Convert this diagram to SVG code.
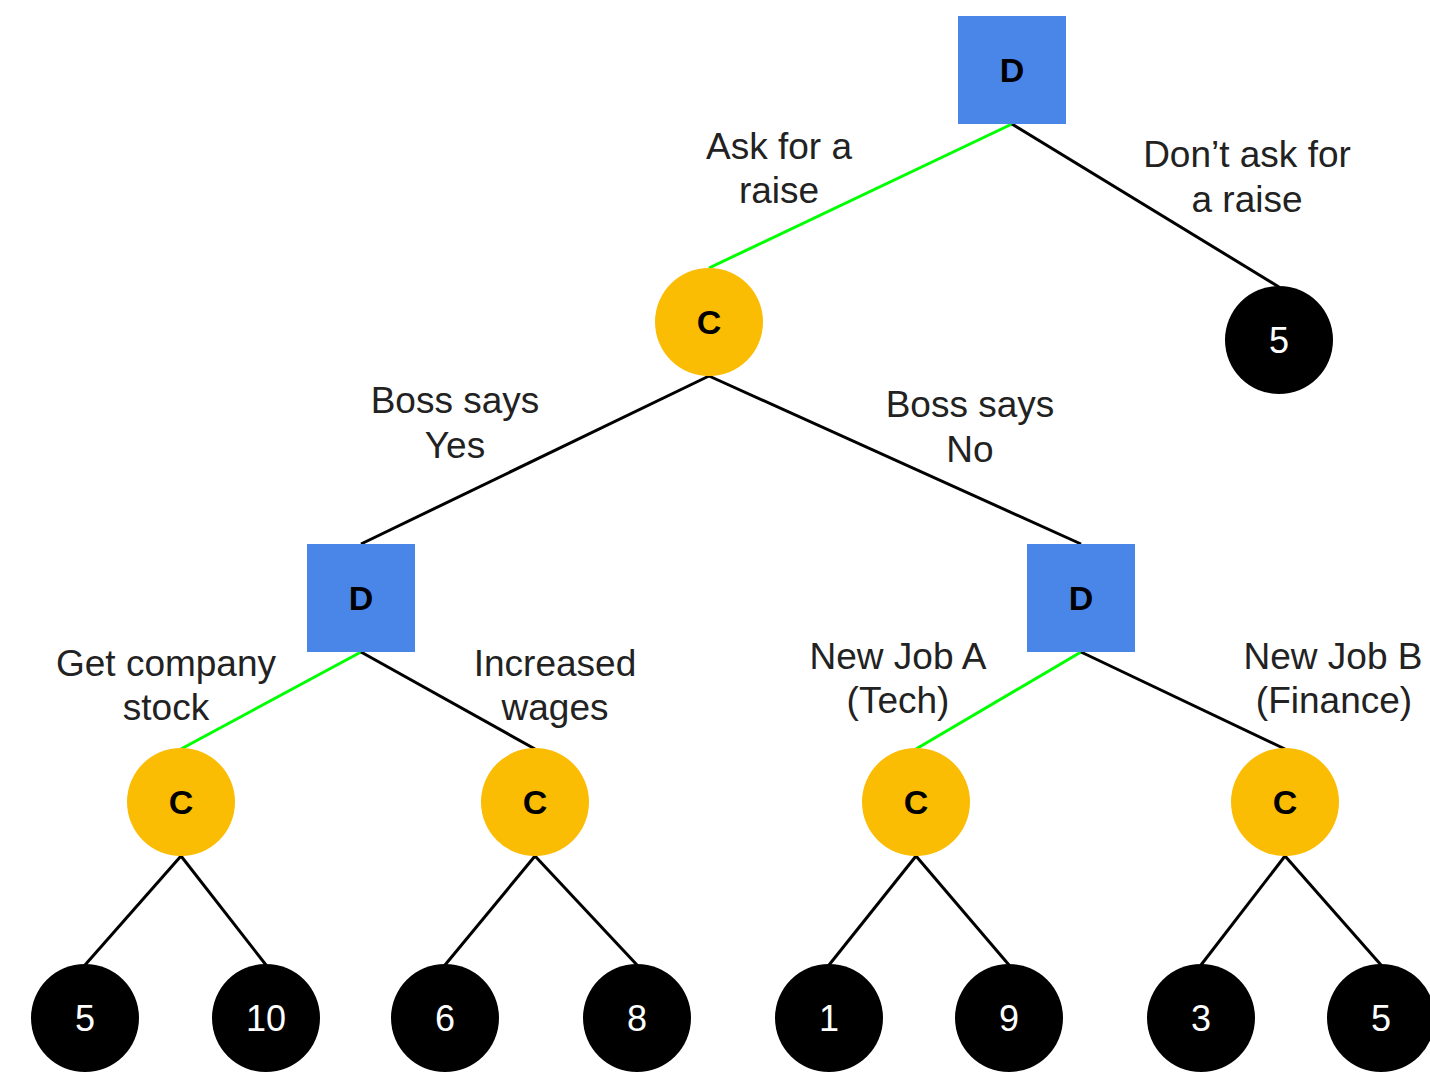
<svg xmlns="http://www.w3.org/2000/svg" width="1430" height="1078" viewBox="0 0 1430 1078">
  <style>
    .edge { stroke: #000000; stroke-width: 3; fill: none; }
    .edge.best { stroke: #00ff00; }
    .decision { fill: #4a86e8; }
    .chance { fill: #fbbc04; }
    .payoff { fill: #000000; }
    .nlabel { font-family: "Liberation Sans", Arial, sans-serif; font-size: 34px; font-weight: bold; fill: #000000; text-anchor: middle; }
    .value { font-family: "Liberation Sans", Arial, sans-serif; font-size: 36px; fill: #ffffff; text-anchor: middle; }
    .elabel { font-family: "Liberation Sans", Arial, sans-serif; font-size: 37px; fill: #222222; text-anchor: middle; }
  </style>
  <rect width="1430" height="1078" fill="#ffffff"/>

  <!-- connectors -->
  <g id="connectors">
    <line class="edge best" x1="1012" y1="124" x2="709" y2="268"/>
    <line class="edge" x1="1012" y1="124" x2="1279" y2="287"/>
    <line class="edge" x1="709" y1="376" x2="361" y2="544"/>
    <line class="edge" x1="709" y1="376" x2="1081" y2="544"/>
    <line class="edge best" x1="361" y1="652" x2="181" y2="749"/>
    <line class="edge" x1="361" y1="652" x2="535" y2="749"/>
    <line class="edge best" x1="1081" y1="652" x2="916" y2="749"/>
    <line class="edge" x1="1081" y1="652" x2="1285" y2="749"/>
    <line class="edge" x1="181" y1="856" x2="85" y2="965"/>
    <line class="edge" x1="181" y1="856" x2="266" y2="965"/>
    <line class="edge" x1="535" y1="856" x2="445" y2="965"/>
    <line class="edge" x1="535" y1="856" x2="637" y2="965"/>
    <line class="edge" x1="916" y1="856" x2="829" y2="965"/>
    <line class="edge" x1="916" y1="856" x2="1009" y2="965"/>
    <line class="edge" x1="1285" y1="856" x2="1201" y2="965"/>
    <line class="edge" x1="1285" y1="856" x2="1381" y2="965"/>
  </g>

  <!-- branch labels -->
  <g id="branch-labels">
    <text class="elabel" x="779" y="159">Ask for a</text>
    <text class="elabel" x="779" y="203">raise</text>
    <text class="elabel" x="1247" y="167">Don’t ask for</text>
    <text class="elabel" x="1247" y="212">a raise</text>
    <text class="elabel" x="455" y="413">Boss says</text>
    <text class="elabel" x="455" y="458">Yes</text>
    <text class="elabel" x="970" y="417">Boss says</text>
    <text class="elabel" x="970" y="462">No</text>
    <text class="elabel" x="166" y="676">Get company</text>
    <text class="elabel" x="166" y="720">stock</text>
    <text class="elabel" x="555" y="676">Increased</text>
    <text class="elabel" x="555" y="720">wages</text>
    <text class="elabel" x="898" y="669">New Job A</text>
    <text class="elabel" x="898" y="713">(Tech)</text>
    <text class="elabel" x="1333" y="669">New Job B</text>
    <text class="elabel" x="1334" y="713">(Finance)</text>
  </g>

  <!-- decision nodes -->
  <g id="d-root"><rect class="decision" x="958" y="16" width="108" height="108"/><text class="nlabel" x="1012" y="82">D</text></g>
  <g id="d-yes"><rect class="decision" x="307" y="544" width="108" height="108"/><text class="nlabel" x="361" y="610">D</text></g>
  <g id="d-no"><rect class="decision" x="1027" y="544" width="108" height="108"/><text class="nlabel" x="1081" y="610">D</text></g>

  <!-- chance nodes -->
  <g id="c-ask"><circle class="chance" cx="709" cy="322" r="54"/><text class="nlabel" x="709" y="334">C</text></g>
  <g id="c-stock"><circle class="chance" cx="181" cy="802" r="54"/><text class="nlabel" x="181" y="814">C</text></g>
  <g id="c-wages"><circle class="chance" cx="535" cy="802" r="54"/><text class="nlabel" x="535" y="814">C</text></g>
  <g id="c-tech"><circle class="chance" cx="916" cy="802" r="54"/><text class="nlabel" x="916" y="814">C</text></g>
  <g id="c-finance"><circle class="chance" cx="1285" cy="802" r="54"/><text class="nlabel" x="1285" y="814">C</text></g>

  <!-- payoff nodes -->
  <g id="p-noask"><circle class="payoff" cx="1279" cy="340" r="54"/><text class="value" x="1279" y="353">5</text></g>
  <g id="p-1"><circle class="payoff" cx="85" cy="1018" r="54"/><text class="value" x="85" y="1031">5</text></g>
  <g id="p-2"><circle class="payoff" cx="266" cy="1018" r="54"/><text class="value" x="266" y="1031">10</text></g>
  <g id="p-3"><circle class="payoff" cx="445" cy="1018" r="54"/><text class="value" x="445" y="1031">6</text></g>
  <g id="p-4"><circle class="payoff" cx="637" cy="1018" r="54"/><text class="value" x="637" y="1031">8</text></g>
  <g id="p-5"><circle class="payoff" cx="829" cy="1018" r="54"/><text class="value" x="829" y="1031">1</text></g>
  <g id="p-6"><circle class="payoff" cx="1009" cy="1018" r="54"/><text class="value" x="1009" y="1031">9</text></g>
  <g id="p-7"><circle class="payoff" cx="1201" cy="1018" r="54"/><text class="value" x="1201" y="1031">3</text></g>
  <g id="p-8"><circle class="payoff" cx="1381" cy="1018" r="54"/><text class="value" x="1381" y="1031">5</text></g>
</svg>
